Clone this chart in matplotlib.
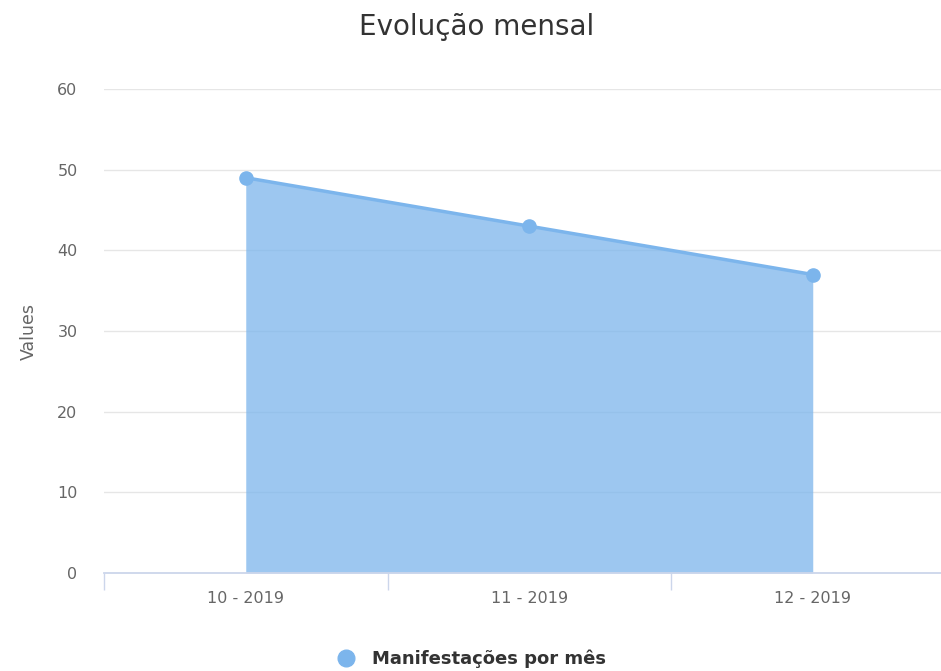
import matplotlib.pyplot as plt
import numpy as np

categories = ["10 - 2019", "11 - 2019", "12 - 2019"]
values = [49, 43, 37]
series_name = "Manifestações por mês"


def main():
    plt.rcParams['font.family'] = ['DejaVu Sans']
    fig = plt.figure(figsize=(9.41, 6.71), dpi=100)
    ax = fig.add_axes([104 / 941, 1 - 573 / 671, 1 - 104 / 941, (573 - 89) / 671])

    x = np.arange(len(categories))
    ax.fill_between(x, values, 0, color='#7cb5ec', alpha=0.75, linewidth=0, zorder=2)
    ax.plot(x, values, color='#7cb5ec', linewidth=2.5, zorder=3)
    ax.scatter(x, values, s=90, color='#7cb5ec', zorder=4, clip_on=False)

    ax.set_yticks(np.arange(0, 61, 10))
    ax.yaxis.grid(True, color='#e6e6e6', linewidth=1)
    ax.set_axisbelow(True)

    ax.set_xticks(x)
    ax.set_xticklabels(categories)
    ax.set_xticks(np.arange(-0.5, 3, 1), minor=True)
    # set limits after ticks (set_xticks widens the view)
    ax.set_ylim(0, 60)
    ax.set_xlim(-0.5, -0.5 + (941 - 104) / 283.5)

    ax.tick_params(axis='x', which='major', length=0, pad=13, labelsize=11.5, labelcolor='#666666')
    ax.tick_params(axis='x', which='minor', length=12, color='#ccd6eb', width=1)
    ax.tick_params(axis='y', length=0, pad=19, labelsize=11.5, labelcolor='#666666')

    for s in ['top', 'right', 'left']:
        ax.spines[s].set_visible(False)
    ax.spines['bottom'].set_color('#ccd6eb')
    ax.spines['bottom'].set_linewidth(1.3)

    ax.set_ylabel("Values", fontsize=12.5, color='#666666', labelpad=14)

    fig.text(477 / 941, 1 - 27 / 671, "Evolução mensal", ha='center', va='center',
             fontsize=20, color='#333333')

    # legend
    fig.add_artist(plt.Line2D([346 / 941], [1 - 658 / 671], marker='o', markersize=12,
                              color='#7cb5ec', transform=fig.transFigure))
    fig.text(372 / 941, 1 - 659 / 671, series_name, ha='left', va='center',
             fontsize=13, fontweight='bold', color='#333333')

    plt.savefig("out.png", dpi=100)


if __name__ == "__main__":
    main()
